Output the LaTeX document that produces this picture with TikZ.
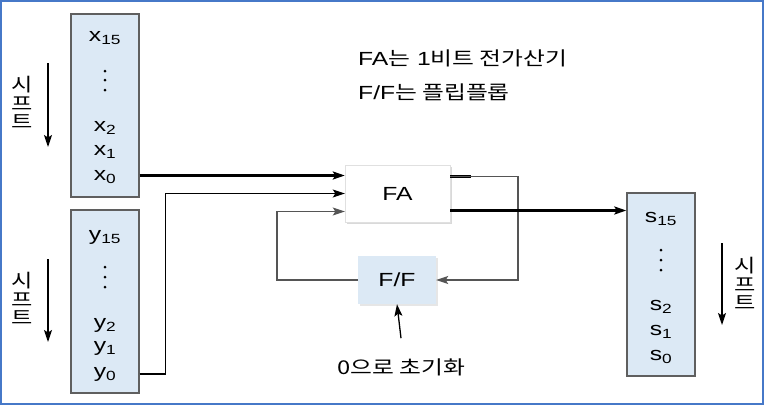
\documentclass[tikz,border=0pt]{standalone}
\usepackage{fontspec}
\setmainfont{Liberation Sans}[FakeStretch=1.3]
\newfontfamily\kr{Noto Sans CJK KR}[FakeStretch=1.25]
\usepackage{tikz}
\usetikzlibrary{arrows.meta,shadows}
\definecolor{regfill}{RGB}{220,233,245}
\definecolor{regline}{RGB}{95,95,95}
\definecolor{framecol}{RGB}{70,120,200}
\definecolor{loopcol}{RGB}{85,85,85}

\begin{document}
\begin{tikzpicture}[x=1pt, y=-1pt, font=\fontsize{19}{22}\selectfont,
    >={Stealth[length=12pt,width=8pt,inset=2.5pt]},
    reg/.style={draw=regline, line width=1.4pt, fill=regfill,
      minimum width=68pt, minimum height=183pt, inner sep=0pt},
    bit/.style={inner sep=0pt},
    bus/.style={line width=2.4pt},
    wire/.style={line width=1.3pt},
    loopw/.style={line width=1.5pt, draw=loopcol},
    shiftlbl/.style={font=\kr\fontsize{18.5}{19}\selectfont, inner sep=0pt}]
    \useasboundingbox (0,0) rectangle (764,405);
    % Frame
    \draw[framecol, line width=2pt] (1,1) rectangle (763,404);

    % Registers
    \node[reg] (xreg) at (105,105.5) {};
    \node[reg] (yreg) at (105,301.5) {};
    \node[reg] (sreg) at (661,284.5) {};

    \node[bit] (x15) at (105,38) {x\textsubscript{15}};
    \node[bit] (x2) at (105,128) {x\textsubscript{2}};
    \node[bit] (x1) at (105,152) {x\textsubscript{1}};
    \node[bit] (x0) at (105,177) {x\textsubscript{0}};
    \node[bit] (y15) at (105,237) {y\textsubscript{15}};
    \node[bit] (y2) at (105,325) {y\textsubscript{2}};
    \node[bit] (y1) at (105,348) {y\textsubscript{1}};
    \node[bit] (y0) at (105,374) {y\textsubscript{0}};
    \node[bit] (s15) at (661,219) {s\textsubscript{15}};
    \node[bit] (s2) at (661,307) {s\textsubscript{2}};
    \node[bit] (s1) at (661,332) {s\textsubscript{1}};
    \node[bit] (s0) at (661,357) {s\textsubscript{0}};
    \foreach \cx/\cy in {105/71, 105/80, 105/90, 105/267, 105/277, 105/287, 661/250, 661/260, 661/270}
      \fill (\cx,\cy) circle (1.5);

    % Shift labels
    \foreach \nm/\lx/\ly in {shx/22/85, shy/22/281, shs/745/266} {
      \node[shiftlbl] (\nm1) at (\lx,\ly) {시};
      \node[shiftlbl] (\nm2) at (\lx,\ly+18.5) {프};
      \node[shiftlbl] (\nm3) at (\lx,\ly+37) {트};
    }
    \foreach \ax/\atop/\abot in {48/63/147, 48/259/342, 722/243/325}
      \draw[wire, ->] (\ax,\atop) -- (\ax,\abot);

    % Adder and flip-flop
    \node[fill=white, draw=black!12, minimum width=105pt, minimum height=57pt,
      drop shadow={opacity=0.3, shadow xshift=2pt, shadow yshift=-2pt}] (fa) at (397.5,193.5) {FA};
    \node[fill=regfill, minimum width=78pt, minimum height=48pt,
      drop shadow={opacity=0.2, shadow xshift=2pt, shadow yshift=-2pt}] (ff) at (397,280) {F/F};
    \coordinate (in1) at ([yshift=18pt]fa.west);
    \coordinate (in2) at ([yshift=0pt]fa.west);
    \coordinate (in3) at ([yshift=-18pt]fa.west);
    \coordinate (out1) at ([yshift=17pt]fa.east);
    \coordinate (out2) at ([yshift=-17pt]fa.east);

    % Connections
    \draw[bus, ->] (xreg.east |- in1) -- (in1);
    \draw[wire, ->] (yreg.east |- y0) -- ++(26,0) |- (in2);
    \draw[bus] (out1) -- ++(21,0);
    \draw[loopw, ->] (out1) -- ++(68,0) |- (ff.east);
    \draw[loopw, ->] (ff.west) -- ++(-81,0) |- (in3);
    \draw[bus, ->] (out2) -- (sreg.west |- out2);

    % Init
    \node[bit, font=\kr\fontsize{19}{22}\selectfont] (init) at (401,367) {0으로 초기화};
    \draw[wire, ->] ([yshift=20pt]init.north) -- (ff.south);

    % Notes
    \node[bit, anchor=west] (note1) at (358,58) {FA{\kr 는} 1{\kr 비트 전가산기}};
    \node[bit, anchor=west] (note2) at (358,92) {F/F{\kr 는 플립플롭}};
\end{tikzpicture}
\end{document}
